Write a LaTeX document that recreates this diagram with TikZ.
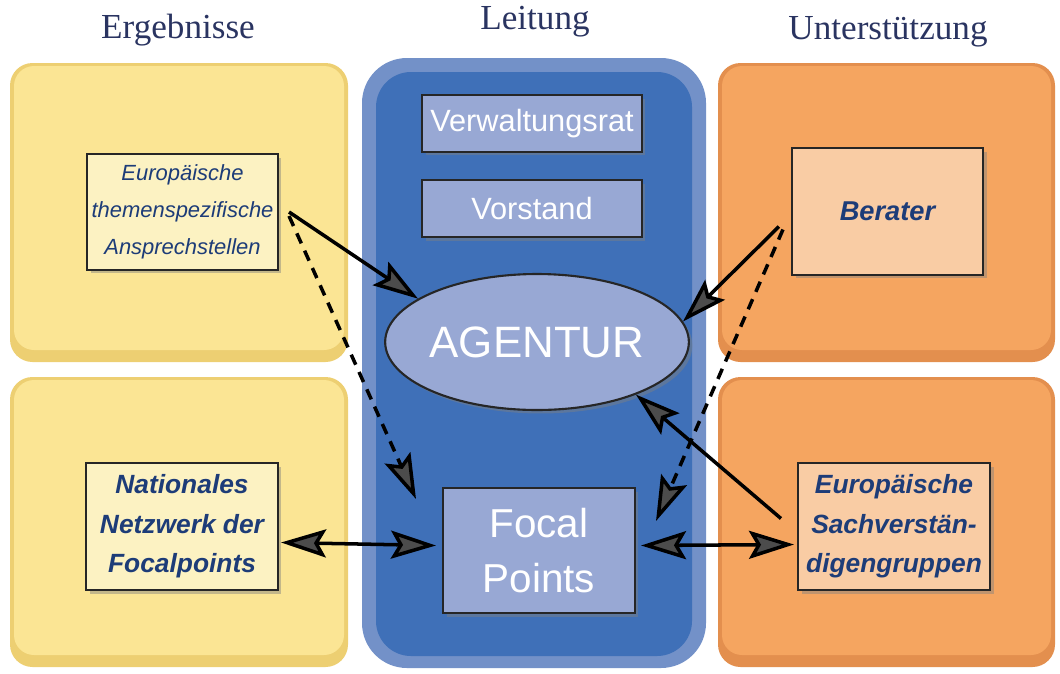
\documentclass[tikz,border=0pt]{standalone}
\usepackage{fontspec}
\setmainfont{Liberation Serif}
\setsansfont{Liberation Sans}
\usetikzlibrary{calc, positioning}
\usetikzlibrary{arrows.meta}
\usetikzlibrary{shapes.geometric}
\usetikzlibrary{shadows}

\definecolor{gelb}{HTML}{FBE594}
\definecolor{gelbrand}{HTML}{EDCF72}
\definecolor{gelbkasten}{HTML}{FCF2C2}
\definecolor{orange}{HTML}{F5A560}
\definecolor{orangerand}{HTML}{E38F4E}
\definecolor{orangekasten}{HTML}{F9CCA4}
\definecolor{blau}{HTML}{3F70B8}
\definecolor{blaurand}{HTML}{7391C8}
\definecolor{blaukasten}{HTML}{98A8D4}
\definecolor{textblau}{HTML}{1D3C78}
\definecolor{titel}{HTML}{2A3461}

\tikzset{
	titeltext/.style={font=\fontsize{20}{24}\selectfont, text=titel},
	kasten/.style={draw=black!85, line width=1.2pt, align=center, inner sep=0pt,
		drop shadow={opacity=0.45, shadow xshift=0.07cm, shadow yshift=-0.07cm},
		font=\sffamily\itshape, text=textblau},
	leitkasten/.style={kasten, fill=blaukasten, text=white, font=\sffamily},
	pfeil/.style={line width=2pt, -{Stealth[length=9mm, width=5.6mm, inset=1.6mm, fill=black!70]}},
	doppelpfeil/.style={line width=2pt, {Stealth[length=9mm, width=5.6mm, inset=1.6mm, fill=black!70]}-{Stealth[length=9mm, width=5.6mm, inset=1.6mm, fill=black!70]}},
	gestrichelt/.style={dash pattern=on 2.2mm off 1.6mm},
}

\begin{document}
\begin{tikzpicture}[x=0.02cm, y=-0.02cm]
	\useasboundingbox (0,0) rectangle (1060,673);
	
	% Spalten
	\fill[gelbrand, rounded corners=0.45cm] (10,63) rectangle (348,362);
	\fill[gelb, rounded corners=0.4cm] (14,66) rectangle (344,350);
	\fill[gelbrand, rounded corners=0.45cm] (10,377) rectangle (348,667);
	\fill[gelb, rounded corners=0.4cm] (14,380) rectangle (344,655);
	
	\fill[blaurand, rounded corners=0.9cm] (362,58) rectangle (706,668);
	\fill[blau, rounded corners=0.7cm] (376,72) rectangle (692,656);
	
	\fill[orangerand, rounded corners=0.45cm] (718,63) rectangle (1055,362);
	\fill[orange, rounded corners=0.4cm] (722,66) rectangle (1051,350);
	\fill[orangerand, rounded corners=0.45cm] (718,377) rectangle (1055,667);
	\fill[orange, rounded corners=0.4cm] (722,380) rectangle (1051,655);
	
	\node[titeltext] (ergebnisse) at (178,30) {Ergebnisse};
	\node[titeltext] (leitung) at (535,22) {Leitung};
	\node[titeltext] (unterstuetzung) at (888,32) {Unterstützung};
	
	% Kaesten
	\node[kasten, fill=gelbkasten, minimum width=3.82cm, minimum height=2.32cm,
		font=\sffamily\itshape\fontsize{12.5}{21}\selectfont] (ansprech) at (182.5,212)
		{Europäische\\themenspezifische\\Ansprechstellen};
	\node[kasten, fill=gelbkasten, minimum width=3.84cm, minimum height=2.54cm,
		font=\sffamily\itshape\bfseries\fontsize{15}{22.5}\selectfont] (national) at (182,526.5)
		{Nationales\\Netzwerk der\\Focalpoints};
	
	\node[leitkasten, minimum width=4.4cm, minimum height=1.14cm,
		font=\sffamily\fontsize{17.5}{20}\selectfont] (verwaltungsrat) at (532,123.5) {Verwaltungsrat};
	\node[leitkasten, minimum width=4.4cm, minimum height=1.14cm,
		font=\sffamily\fontsize{17.5}{20}\selectfont] (vorstand) at (532,208.5) {Vorstand};
	\node[leitkasten, ellipse, minimum width=5.2cm, minimum height=2.72cm,
		font=\sffamily\fontsize{25}{28}\selectfont] (agentur) at (537,342) {AGENTUR};
	\node[leitkasten, minimum width=3.84cm, minimum height=2.5cm,
		font=\sffamily\fontsize{23}{31}\selectfont] (focal) at (539,550.5) {Focal\\Points};
	
	\node[kasten, fill=orangekasten, minimum width=3.82cm, minimum height=2.54cm,
		font=\sffamily\itshape\bfseries\fontsize{15.5}{20}\selectfont] (berater) at (887.5,211.5) {Berater};
	\node[kasten, fill=orangekasten, minimum width=3.84cm, minimum height=2.54cm,
		font=\sffamily\itshape\bfseries\fontsize{15}{22.5}\selectfont] (sachverst) at (894,526.5)
		{Europäische\\Sachverstän-\\digengruppen};
	
	% Pfeile
	\draw[pfeil] ($(ansprech.east)+(10,0)$) -- (agentur.160);
	\draw[pfeil, gestrichelt] ($(ansprech.east)+(10,4)$) -- ($(focal.north west)+(-26,12)$);
	\draw[pfeil] ($(berater.west)+(-12,15)$) -- (agentur.8);
	\draw[pfeil, gestrichelt] ($(berater.west)+(-8,18)$) -- ($(focal.north east)+(20,34)$);
	\draw[pfeil] ($(sachverst.west)+(-16,-8)$) -- (agentur.-28);
	\draw[doppelpfeil] ($(national.east)+(2,16)$) -- ($(focal.west)+(-6,-5)$);
	\draw[doppelpfeil] ($(focal.east)+(5,-5)$) -- ($(sachverst.west)+(-3,18)$);
\end{tikzpicture}
\end{document}
